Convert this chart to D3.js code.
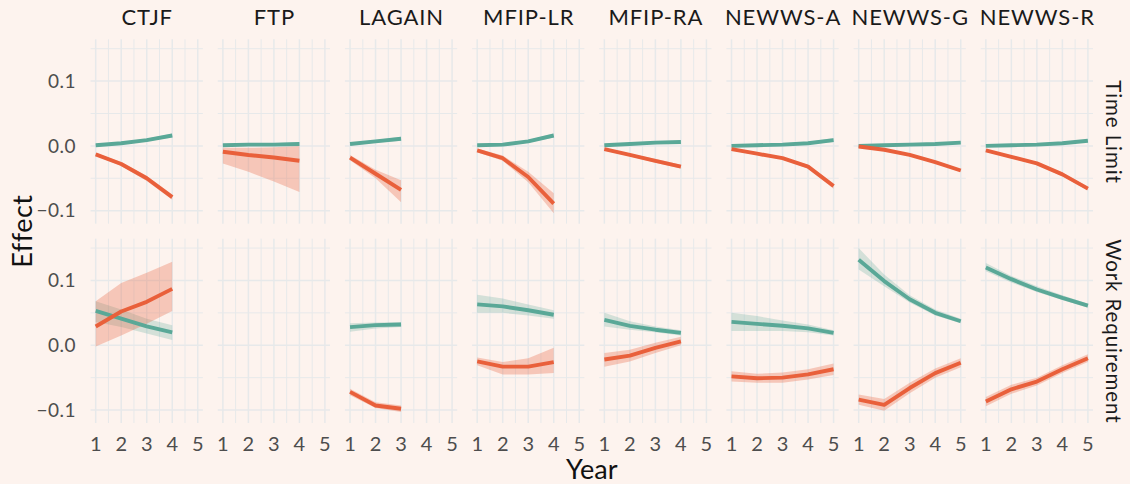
<!DOCTYPE html>
<html>
<head>
<meta charset="utf-8">
<script src="https://cdn.jsdelivr.net/npm/d3@7"></script>
<style>
  body { margin: 0; background: #fdf3ee; }
  svg { display: block; font-family: Lato, "DejaVu Sans", sans-serif; }
</style>
</head>
<body>
<div id="chart"></div>
<script>
// facets
const programs = ["CTJF", "FTP", "LAGAIN", "MFIP-LR", "MFIP-RA", "NEWWS-A", "NEWWS-G", "NEWWS-R"];
const policies = ["Time Limit", "Work Requirement"];
const xTicks = [1, 2, 3, 4, 5];
const yTicks = [-0.1, 0, 0.1];
const yMinor = [-0.05, 0.05, 0.15];

// Time Limit row, teal series (estimate, lower, upper), one list per program
const tealTL = [
  [0.001, 0.004, 0.009, 0.016], [0.001, 0.002, 0.002, 0.003], [0.003, 0.007, 0.011],
  [0.001, 0.002, 0.007, 0.016], [0.001, 0.003, 0.005, 0.006], [0.000, 0.001, 0.002, 0.004, 0.009],
  [0.000, 0.001, 0.002, 0.003, 0.005], [0.000, 0.001, 0.002, 0.004, 0.008]];
const tealTLlo = [
  [-0.001, 0.002, 0.007, 0.013], [-0.001, 0.000, 0.000, 0.000], [0.001, 0.005, 0.008],
  [-0.001, 0.000, 0.005, 0.013], [-0.001, 0.001, 0.003, 0.004], [-0.002, -0.001, 0.000, 0.002, 0.006],
  [-0.002, -0.001, 0.000, 0.001, 0.003], [-0.002, -0.001, 0.000, 0.002, 0.006]];
const tealTLhi = [
  [0.003, 0.006, 0.011, 0.019], [0.003, 0.004, 0.004, 0.006], [0.005, 0.009, 0.014],
  [0.003, 0.004, 0.009, 0.019], [0.003, 0.005, 0.007, 0.008], [0.002, 0.003, 0.004, 0.006, 0.012],
  [0.002, 0.003, 0.004, 0.005, 0.007], [0.002, 0.003, 0.004, 0.006, 0.010]];

// Time Limit row, orange series
const orangeTL = [
  [-0.013, -0.028, -0.050, -0.079], [-0.009, -0.014, -0.018, -0.023], [-0.018, -0.043, -0.068],
  [-0.007, -0.019, -0.048, -0.089], [-0.005, -0.014, -0.023, -0.032], [-0.005, -0.012, -0.019, -0.032, -0.062],
  [-0.001, -0.006, -0.014, -0.025, -0.038], [-0.007, -0.017, -0.027, -0.044, -0.066]];
const orangeTLlo = [
  [-0.015, -0.031, -0.054, -0.083], [-0.027, -0.040, -0.055, -0.071], [-0.022, -0.050, -0.087],
  [-0.010, -0.023, -0.056, -0.104], [-0.007, -0.016, -0.026, -0.035], [-0.007, -0.014, -0.021, -0.035, -0.066],
  [-0.003, -0.008, -0.016, -0.027, -0.040], [-0.009, -0.019, -0.029, -0.047, -0.069]];
const orangeTLhi = [
  [-0.011, -0.025, -0.046, -0.075], [-0.003, -0.003, -0.002, 0.000], [-0.014, -0.037, -0.053],
  [-0.004, -0.015, -0.040, -0.073], [-0.003, -0.012, -0.020, -0.029], [-0.003, -0.010, -0.017, -0.029, -0.058],
  [0.001, -0.004, -0.012, -0.023, -0.036], [-0.005, -0.015, -0.025, -0.041, -0.063]];

// Work Requirement row, teal series (FTP has none)
const tealWR = [
  [0.053, 0.041, 0.029, 0.020], [], [0.028, 0.031, 0.032],
  [0.063, 0.060, 0.054, 0.047], [0.039, 0.030, 0.024, 0.019], [0.036, 0.033, 0.030, 0.026, 0.019],
  [0.132, 0.099, 0.071, 0.050, 0.037], [0.120, 0.102, 0.086, 0.073, 0.061]];
const tealWRlo = [
  [0.036, 0.028, 0.018, 0.008], [], [0.021, 0.026, 0.028],
  [0.050, 0.050, 0.046, 0.041], [0.029, 0.024, 0.020, 0.015], [0.022, 0.022, 0.022, 0.020, 0.015],
  [0.117, 0.091, 0.066, 0.046, 0.034], [0.114, 0.097, 0.082, 0.070, 0.058]];
const tealWRhi = [
  [0.068, 0.055, 0.041, 0.031], [], [0.034, 0.035, 0.036],
  [0.078, 0.072, 0.063, 0.054], [0.050, 0.037, 0.029, 0.023], [0.050, 0.045, 0.038, 0.032, 0.023],
  [0.150, 0.109, 0.077, 0.055, 0.041], [0.127, 0.107, 0.091, 0.077, 0.064]];

// Work Requirement row, orange series
const orangeWR = [
  [0.029, 0.052, 0.067, 0.087], [], [-0.072, -0.093, -0.098],
  [-0.025, -0.033, -0.033, -0.026], [-0.022, -0.016, -0.004, 0.006], [-0.048, -0.051, -0.050, -0.045, -0.037],
  [-0.084, -0.092, -0.066, -0.043, -0.027], [-0.087, -0.068, -0.056, -0.037, -0.020]];
const orangeWRlo = [
  [-0.002, 0.015, 0.033, 0.053], [], [-0.077, -0.097, -0.103],
  [-0.031, -0.045, -0.045, -0.043], [-0.033, -0.025, -0.012, 0.000], [-0.056, -0.058, -0.058, -0.053, -0.046],
  [-0.092, -0.101, -0.074, -0.050, -0.034], [-0.094, -0.075, -0.062, -0.043, -0.026]];
const orangeWRhi = [
  [0.068, 0.096, 0.112, 0.129], [], [-0.067, -0.088, -0.093],
  [-0.019, -0.026, -0.020, -0.004], [-0.012, -0.007, 0.004, 0.013], [-0.040, -0.044, -0.042, -0.037, -0.028],
  [-0.076, -0.083, -0.058, -0.036, -0.020], [-0.080, -0.061, -0.050, -0.031, -0.014]];

const teal = "#5aa897", orange = "#e9603b";

const width = 1130, height = 484;
const margin = {top: 39.3, right: 37, bottom: 61, left: 90.6};
const colGap = 14.9, rowGap = 15;

const svg = d3.select("#chart").append("svg")
    .attr("width", width)
    .attr("height", height);

svg.append("rect").attr("width", width).attr("height", height).attr("fill", "#fdf3ee");

const innerW = width - margin.left - margin.right;
const innerH = height - margin.top - margin.bottom;
const panelW = (innerW - colGap * 7) / 8;
const panelH = (innerH - rowGap) / 2;

const x = d3.scaleLinear().domain([0.8, 5.2]).range([0, panelW]);
const y = d3.scaleLinear().domain([-0.12, 0.1645]).range([panelH, 0]);

const rows = [
  {series: [
    {est: tealTL, lo: tealTLlo, hi: tealTLhi, col: teal, bandOp: 0.25},
    {est: orangeTL, lo: orangeTLlo, hi: orangeTLhi, col: orange, bandOp: 0.3}]},
  {series: [
    {est: tealWR, lo: tealWRlo, hi: tealWRhi, col: teal, bandOp: 0.25},
    {est: orangeWR, lo: orangeWRlo, hi: orangeWRhi, col: orange, bandOp: 0.3}]}
];

const line = d3.line().x((d, i) => x(i + 1)).y(d => y(d));
const area = d3.area()
    .x(d => x(d.yr))
    .y0(d => y(d.lo))
    .y1(d => y(d.hi));

const gridCol = "#e7e9ea";

rows.forEach((row, r) => {
  programs.forEach((prog, c) => {
    const g = svg.append("g")
        .attr("transform", `translate(${margin.left + c * (panelW + colGap)},${margin.top + r * (panelH + rowGap)})`);

    // grid
    g.selectAll(".hmin").data(yMinor).enter().append("line")
        .attr("x1", 0).attr("x2", panelW)
        .attr("y1", d => y(d)).attr("y2", d => y(d))
        .attr("stroke", gridCol).attr("stroke-width", 1);
    g.selectAll(".vmin").data(xTicks.slice(0, 4)).enter().append("line")
        .attr("x1", d => x(d + 0.5)).attr("x2", d => x(d + 0.5))
        .attr("y1", 0).attr("y2", panelH)
        .attr("stroke", gridCol).attr("stroke-width", 1);
    g.selectAll(".hmaj").data(yTicks).enter().append("line")
        .attr("x1", 0).attr("x2", panelW)
        .attr("y1", d => y(d)).attr("y2", d => y(d))
        .attr("stroke", gridCol).attr("stroke-width", 1.5);
    g.selectAll(".vmaj").data(xTicks).enter().append("line")
        .attr("x1", d => x(d)).attr("x2", d => x(d))
        .attr("y1", 0).attr("y2", panelH)
        .attr("stroke", gridCol).attr("stroke-width", 1.5);

    // ribbons then lines
    row.series.forEach(s => {
      const est = s.est[c];
      if (!est.length) return;
      const band = est.map((v, i) => ({yr: i + 1, lo: s.lo[c][i], hi: s.hi[c][i]}));
      g.append("path").datum(band)
          .attr("d", area)
          .attr("fill", s.col)
          .attr("fill-opacity", s.bandOp);
    });
    row.series.forEach(s => {
      const est = s.est[c];
      if (!est.length) return;
      g.append("path").datum(est)
          .attr("d", line)
          .attr("fill", "none")
          .attr("stroke", s.col)
          .attr("stroke-width", 3.9)
          .attr("stroke-linejoin", "round");
    });

    // y tick labels on first column
    if (c === 0) {
      g.selectAll(".ylab").data(yTicks).enter().append("text")
          .attr("x", -14.5)
          .attr("y", d => y(d))
          .attr("dy", "0.35em")
          .attr("text-anchor", "end")
          .attr("font-size", 19)
          .attr("letter-spacing", 0.5)
          .attr("fill", "#4d4d4d")
          .text(d => d3.format(".1f")(d));
    }
    // x tick labels on bottom row
    if (r === 1) {
      g.selectAll(".xlab").data(xTicks).enter().append("text")
          .attr("x", d => x(d))
          .attr("y", panelH + 28)
          .attr("text-anchor", "middle")
          .attr("font-size", 20)
          .attr("fill", "#4d4d4d")
          .text(d => d);
    }
    // strip labels on top
    if (r === 0) {
      g.append("text")
          .attr("x", panelW / 2 + 0.5)
          .attr("y", -14)
          .attr("text-anchor", "middle")
          .attr("font-size", 22)
          .attr("letter-spacing", 0.9)
          .attr("fill", "#1a1a1a")
          .text(prog);
    }
    // strip labels on right
    if (c === programs.length - 1) {
      g.append("text")
          .attr("transform", `translate(${panelW + 12.5},${panelH / 2 + 0.5}) rotate(90)`)
          .attr("text-anchor", "middle")
          .attr("font-size", 20.5)
          .attr("letter-spacing", 0.9)
          .attr("fill", "#1a1a1a")
          .text(policies[r]);
    }
  });
});

// axis titles
svg.append("text")
    .attr("x", margin.left + innerW / 2)
    .attr("y", 478.5)
    .attr("text-anchor", "middle")
    .attr("font-size", 27)
    .attr("fill", "#111")
    .text("Year");

svg.append("text")
    .attr("transform", `translate(32,${margin.top + innerH / 2}) rotate(-90)`)
    .attr("text-anchor", "middle")
    .attr("font-size", 27)
    .attr("letter-spacing", 0.5)
    .attr("fill", "#111")
    .text("Effect");
</script>
</body>
</html>
